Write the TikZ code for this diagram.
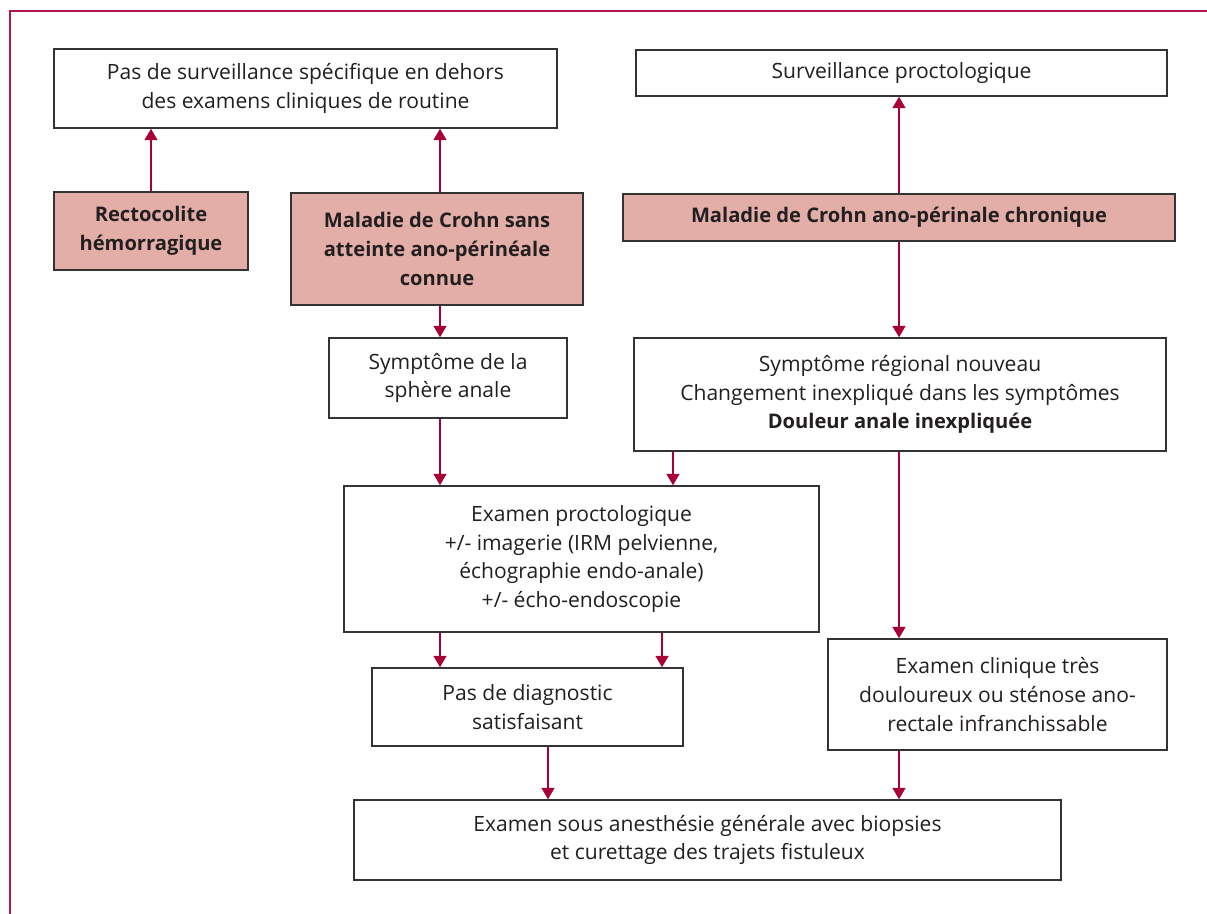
\documentclass[tikz,border=0pt]{standalone}
\usepackage{fontspec}
\setmainfont{Open Sans}
\usetikzlibrary{arrows.meta,calc,positioning}
\definecolor{framered}{RGB}{176,22,70}
\definecolor{arrowred}{RGB}{168,0,52}
\definecolor{rosefill}{RGB}{227,174,168}
\definecolor{boxline}{RGB}{51,51,51}
\definecolor{textgrey}{RGB}{35,31,32}
\tikzset{
    flow chart/.style = {x=0.75pt, y=-0.75pt,
                         >={Triangle[length=8.5pt, width=9.5pt]}},
    dims/.style 2 args = {minimum width=#1*0.75pt, minimum height=#2*0.75pt},
    box/.style        = {draw=boxline, line width=1.1pt, fill=white,
                         text=textgrey, align=center, inner sep=0pt,
                         font=\fontsize{15.8pt}{21.6pt}\selectfont},
    diagnosis/.style  = {box, fill=rosefill,
                         font=\fontsize{15.1pt}{21.6pt}\selectfont\bfseries},
    flow/.style       = {->, draw=arrowred, line width=1.5pt},
    frame/.style      = {draw=framered, line width=1.5pt}
}

\begin{document}
\begin{tikzpicture}[flow chart]
\useasboundingbox (0,0) rectangle (1207,914);

% Open frame: left and top rule only
\draw[frame] (10,914) -- (10,11) -- (1207,11);

% Surveillance outcomes
\node[box, dims={503}{79}] (nospec) at (305.5,88.5)
    {Pas de surveillance spécifique en dehors\\des examens cliniques de routine};
\node[box, dims={531}{46}] (procto) at (901.5,73) {Surveillance proctologique};

% Starting diagnoses
\node[diagnosis, dims={194}{78}] (rch) at (151,231) {Rectocolite\\hémorragique};
\node[diagnosis, dims={292}{112}] (crohn) at (437,249)
    {Maladie de Crohn sans\\atteinte ano-périnéale\\connue};
\node[diagnosis, dims={552}{47}] (crohnap) at (899,217.5)
    {Maladie de Crohn ano-périnale chronique};

% Triggers
\node[box, dims={238}{80}] (sphere) at (448,378) {Symptôme de la\\sphère anale};
\node[box, dims={532}{113}] (regional) at (900,394.5)
    {Symptôme régional nouveau\\Changement inexpliqué dans les symptômes\\
     \fontsize{15.1pt}{21.6pt}\selectfont\textbf{Douleur anale inexpliquée}};

% Work-up
\node[box, dims={475}{146}] (exam) at (581.5,559)
    {Examen proctologique\\+/- imagerie (IRM pelvienne,\\
     échographie endo-anale)\\+/- écho-endoscopie};
\node[box, dims={311}{78}] (nodiag) at (527.5,707)
    {Pas de diagnostic\\satisfaisant};
\node[box, dims={339}{111}] (clinic) at (997.5,694.5)
    {Examen clinique très\\douloureux ou sténose ano-\\rectale infranchissable};
\node[box, dims={707}{80}] (eua) at (707.5,840)
    {Examen sous anesthésie générale avec biopsies\\
     et curettage des trajets fistuleux};

% Arrow columns
\coordinate (colA) at (440,0);
\coordinate (colB) at (662,0);
\coordinate (colC) at (899,0);
\coordinate (colD) at (673,0);
\coordinate (colE) at (548,0);

% Upward to surveillance
\draw[flow] (rch.north) -- (nospec.south -| rch.north);
\draw[flow] (crohn.north -| colA) -- (nospec.south -| colA);
\draw[flow] (crohnap.north -| colC) -- (procto.south -| colC);

% Downward cascade
\foreach \from/\to/\col in {crohn/sphere/colA, crohnap/regional/colC,
                            sphere/exam/colA, regional/exam/colD,
                            regional/clinic/colC, exam/nodiag/colA,
                            exam/nodiag/colB, nodiag/eua/colE,
                            clinic/eua/colC}
    \draw[flow] (\from.south -| \col) -- (\to.north -| \col);

\end{tikzpicture}
\end{document}
